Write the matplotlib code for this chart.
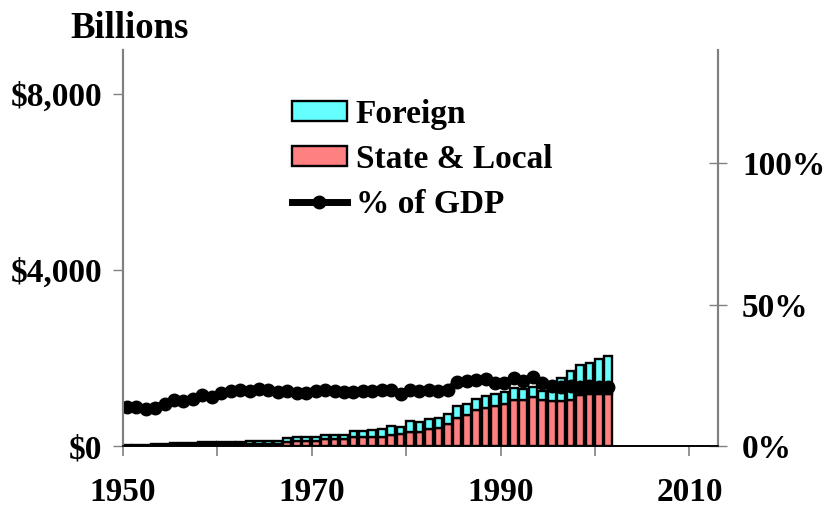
import numpy as np
import matplotlib.pyplot as plt

plt.rcParams['font.family'] = ['Liberation Serif', 'DejaVu Serif']
plt.rcParams['font.weight'] = 'bold'

years = list(range(1950, 2002))

# billions of dollars
state_local = [15, 15, 15, 15, 15, 20, 20, 20, 45, 45,
               45, 45, 45, 45, 45, 45, 45, 90, 113, 113,
               113, 174, 174, 174, 211, 211, 211, 211, 250, 272,
               325, 325, 386, 424, 499, 643, 704, 817, 870, 915,
               953, 1059, 1059, 1120, 1059, 1021, 1021, 1059, 1158, 1196,
               1196, 1196]
total = [35, 35, 35, 40, 40, 75, 75, 75, 100, 100,
         100, 100, 100, 110, 110, 110, 110, 180, 211, 211,
         211, 265, 265, 265, 340, 340, 363, 401, 454, 438,
         567, 555, 613, 651, 726, 915, 968, 1082, 1142, 1196,
         1233, 1324, 1294, 1347, 1248, 1460, 1551, 1710, 1839, 1892,
         1975, 2043]
foreign = [t - s for t, s in zip(total, state_local)]

# percent of GDP
pct_gdp = [13.9, 13.7, 13.0, 13.6, 15.0, 16.3, 16.1, 16.8, 18.0, 17.3,
           18.7, 19.5, 19.9, 19.6, 20.1, 19.9, 19.3, 19.6, 18.9, 18.9,
           19.6, 19.9, 19.6, 19.3, 19.3, 19.6, 19.6, 19.9, 19.9, 18.3,
           19.9, 19.6, 19.9, 19.6, 19.9, 22.6, 23.0, 23.4, 23.8, 22.2,
           22.5, 24.0, 23.0, 24.6, 22.2, 21.3, 21.0, 21.3, 21.0, 21.3,
           21.0, 21.0]

xticks = [1950, 1960, 1970, 1980, 1990, 2000, 2010]
xlabels = ['1950', '', '1970', '', '1990', '', '2010']

red = '#FF8080'
cyan = '#66FFFF'
grey = '#808080'

fig = plt.figure(figsize=(8.25, 5.07), dpi=100)
ax = fig.add_axes([0.149, 0.120, 0.721, 0.781])

x = np.array(years)
ax.bar(x, state_local, width=0.82, align='edge', color=red,
       edgecolor='black', linewidth=1.7, label='State & Local')
ax.bar(x, foreign, bottom=state_local, width=0.82, align='edge', color=cyan,
       edgecolor='black', linewidth=1.7, label='Foreign')

ax.set_xlim(1950, 2013)
ax.set_ylim(0, 9000)
ax.set_xticks(xticks)
ax.set_xticklabels(xlabels)
ax.set_yticks([0, 4000, 8000])
ax.set_yticklabels(['$0', '$4,000', '$8,000'])

ax2 = ax.twinx()
ax2.plot(x + 0.41, pct_gdp, color='black', linewidth=5, marker='o',
         markersize=9, label='% of GDP')
ax2.set_ylim(0, 140)
ax2.set_yticks([0, 50, 100])
ax2.set_yticklabels(['0%', '50%', '100%'])

for a in (ax, ax2):
    a.spines['top'].set_visible(False)
    a.spines['left'].set_color(grey)
    a.spines['right'].set_color(grey)
    a.spines['left'].set_linewidth(1.5)
    a.spines['right'].set_linewidth(1.5)
    a.spines['bottom'].set_linewidth(1.2)

ax.tick_params(axis='y', direction='out', length=7, width=1, color=grey,
               pad=8, labelsize=24)
ax.tick_params(axis='x', direction='out', length=7, width=1.2, color=grey,
               pad=15, labelsize=24)
ax2.tick_params(axis='y', direction='inout', length=13, width=1, color=grey,
                pad=11, labelsize=24)

fig.text(70 / 825, 1 - 38 / 507, 'Billions', fontsize=26.5, fontweight='bold')

h1, l1 = ax.get_legend_handles_labels()
h2, l2 = ax2.get_legend_handles_labels()
ax2.legend([h1[1], h1[0], h2[0]], [l1[1], l1[0], l2[0]],
           loc='upper left', bbox_to_anchor=(0.284, 0.877), frameon=False,
           fontsize=24, handlelength=1.65, handleheight=0.57,
           handletextpad=0.27, labelspacing=0.42, borderpad=0,
           borderaxespad=0)

fig.savefig('out.png', dpi=100)
